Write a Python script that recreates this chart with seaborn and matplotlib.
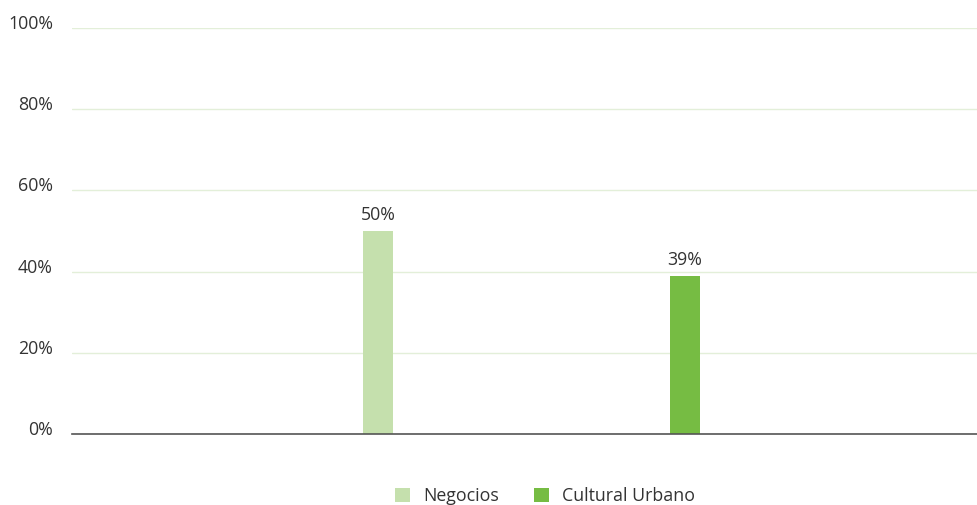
import matplotlib
matplotlib.use("Agg")
import matplotlib.pyplot as plt
import matplotlib.transforms as mtransforms
from matplotlib.patches import Patch
import seaborn as sns
import pandas as pd

categories = ["Negocios", "Cultural Urbano"]
values = [50, 39]
colors = ["#c5e0ad", "#76bc43"]
yticks = [0, 20, 40, 60, 80, 100]

sns.set_theme(style="white")
plt.rcParams['font.family'] = ['Open Sans', 'DejaVu Sans']

df = pd.DataFrame({"cat": categories, "val": values})
fig = plt.figure(figsize=(9.77, 5.05), dpi=100)
ax = fig.add_axes([72/977, 1-434/505, 1-72/977, (434-28)/505])

sns.barplot(data=df, x="cat", y="val", hue="cat", palette=colors, width=0.1,
            ax=ax, legend=False, saturation=1, linewidth=0)
ax.set_xlim(-0.997, 1.951)
ax.set_ylim(0, 100)
ax.set_yticks(yticks)
ax.set_yticklabels([f"{t}%" for t in yticks])
ax.set_xticks([])
ax.set_xlabel("")
ax.set_ylabel("")
ax.grid(axis="y", color="#e3efd9", linewidth=1)
ax.set_axisbelow(True)
for s in ["top", "right", "left"]:
    ax.spines[s].set_visible(False)
ax.spines["bottom"].set_color("#555555")
ax.spines["bottom"].set_linewidth(1.2)
ax.tick_params(axis="y", length=0, pad=13.7, labelsize=12.8, labelcolor="#333333")
off = mtransforms.ScaledTranslation(0, 6/100, fig.dpi_scale_trans)
for lab in ax.get_yticklabels():
    lab.set_transform(lab.get_transform() + off)

for c in ax.containers:
    ax.bar_label(c, labels=[f"{v:.0f}%" for v in c.datavalues], padding=5,
                 fontsize=12.8, color="#333333")

handles = [Patch(facecolor=col, edgecolor="none", label=cat) for cat, col in zip(categories, colors)]
fig.legend(handles=handles, loc="center", bbox_to_anchor=(545/977, 1-496/505), ncol=2,
           frameon=False, fontsize=12.8, handlelength=0.85, handleheight=0.85,
           handletextpad=0.7, columnspacing=2.0, labelcolor="#333333")

fig.savefig("out.png", dpi=100)
